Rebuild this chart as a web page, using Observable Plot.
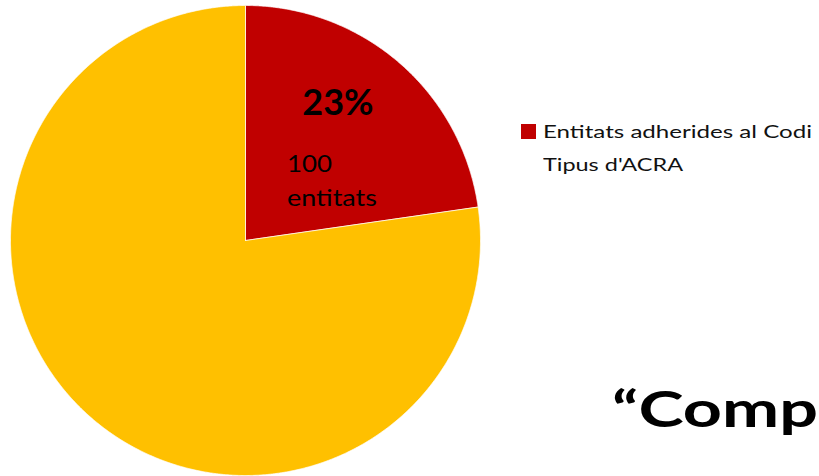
<!DOCTYPE html>
<html><head><meta charset="utf-8">
<script src="https://cdn.jsdelivr.net/npm/d3@7"></script>
<script src="https://cdn.jsdelivr.net/npm/@observablehq/plot@0.6"></script>
<style>
html,body{margin:0;padding:0;background:#fff;overflow:hidden;width:819px;height:476px;}
#wrap{position:relative;width:819px;height:476px;font-family:Lato,"Open Sans",sans-serif;color:#000;}
#wrap svg{position:absolute;left:0;top:0;}
.sw{position:absolute;left:521px;top:124px;width:15px;height:15px;background:#C00000;}
.leg{position:absolute;left:543px;top:115px;font-size:18px;line-height:33px;white-space:nowrap;color:#111;}
.leg span,.big span,.big2 span{display:inline-block;transform-origin:0 50%;}
.big{position:absolute;left:612px;top:383px;font-size:50px;line-height:50px;font-weight:bold;white-space:nowrap;}
.big2{position:absolute;left:717px;top:470px;font-size:50px;line-height:50px;font-weight:bold;white-space:nowrap;}
</style></head><body><div id="wrap"></div>
<script>
const categories = ["Entitats adherides al Codi Tipus d'ACRA", "Altres entitats"];
const values = [100, 340];
const colors = ["#C00000", "#FFC000"];
const labelPct = "23%";
const labelCountLines = ["100", "entitats"];
const legendLines = ["Entitats adherides al Codi", "Tipus d'ACRA"];
const slideLine1 = "\u201CComp";
const slideLine2 = "i";

// layout (target rendered widths, px)
const fit = {count: [45, 90], legend: [269, 140], slide: [206]};

const data = categories.map((c, i) => ({name: c, value: values[i], color: colors[i]}));
const arcs = d3.pie().sort(null).value(d => d.value).startAngle(0).endAngle(2 * Math.PI)(data);

function slicePoints(a) {
  const pts = [{x: 0, y: 0}];
  const n = Math.max(2, Math.ceil((a.endAngle - a.startAngle) / 0.005));
  for (let k = 0; k <= n; k++) {
    const t = a.startAngle + (a.endAngle - a.startAngle) * k / n;
    pts.push({x: Math.sin(t), y: Math.cos(t)});
  }
  pts.push({x: 0, y: 0});
  return pts;
}

const first = arcs[0];
const mid = (first.startAngle + first.endAngle) / 2;
const labelAnchor = [{x: 0.62 * Math.sin(mid), y: 0.62 * Math.cos(mid)}];

const chart = Plot.plot({
  width: 819,
  height: 476,
  margin: 0,
  x: {domain: [-1, 1], range: [10, 480], axis: null},
  y: {domain: [-1, 1], range: [475, 5], axis: null},
  style: {background: "transparent", fontFamily: "Lato, 'Open Sans', sans-serif"},
  marks: [
    ...arcs.map(a => Plot.line(slicePoints(a), {x: "x", y: "y", fill: a.data.color, stroke: "#fff", strokeWidth: 1, strokeOpacity: 0.7, curve: "linear"})),
    Plot.text(labelAnchor, {x: "x", y: "y", text: () => labelPct, fontSize: 36, fontWeight: "bold", fill: "#000", dx: -3, dy: -27}),
    Plot.text(labelAnchor, {x: "x", y: "y", text: () => labelCountLines[0], fontSize: 24, fill: "#000", textAnchor: "start", dx: -54, dy: 34, className: "cnt0"}),
    Plot.text(labelAnchor, {x: "x", y: "y", text: () => labelCountLines[1], fontSize: 24, fill: "#000", textAnchor: "start", dx: -54, dy: 68, className: "cnt1"})
  ]
});

const wrap = document.getElementById("wrap");
wrap.appendChild(chart);
["cnt0", "cnt1"].forEach((c, i) => {
  chart.querySelectorAll("." + c + " text").forEach(t => {
    t.setAttribute("textLength", fit.count[i]);
    t.setAttribute("lengthAdjust", "spacingAndGlyphs");
  });
});

const sw = document.createElement("div"); sw.className = "sw"; wrap.appendChild(sw);
const leg = document.createElement("div"); leg.className = "leg";
const legSpans = legendLines.map(s => { const sp = document.createElement("span"); sp.textContent = s; return sp; });
legSpans.forEach((sp, i) => { if (i) leg.appendChild(document.createElement("br")); leg.appendChild(sp); });
wrap.appendChild(leg);
const big = document.createElement("div"); big.className = "big";
const bigSpan = document.createElement("span"); bigSpan.textContent = slideLine1; big.appendChild(bigSpan); wrap.appendChild(big);
const big2 = document.createElement("div"); big2.className = "big2";
const big2Span = document.createElement("span"); big2Span.textContent = slideLine2; big2.appendChild(big2Span); wrap.appendChild(big2);

function fitSpans() {
  const pairs = [[legSpans[0], fit.legend[0]], [legSpans[1], fit.legend[1]], [bigSpan, fit.slide[0]]];
  pairs.forEach(([sp, w]) => {
    sp.style.transform = "none";
    const cur = sp.getBoundingClientRect().width;
    if (cur > 0) sp.style.transform = `scaleX(${w / cur})`;
  });
}
fitSpans();
if (document.fonts && document.fonts.ready) document.fonts.ready.then(fitSpans);
</script>
</body></html>
